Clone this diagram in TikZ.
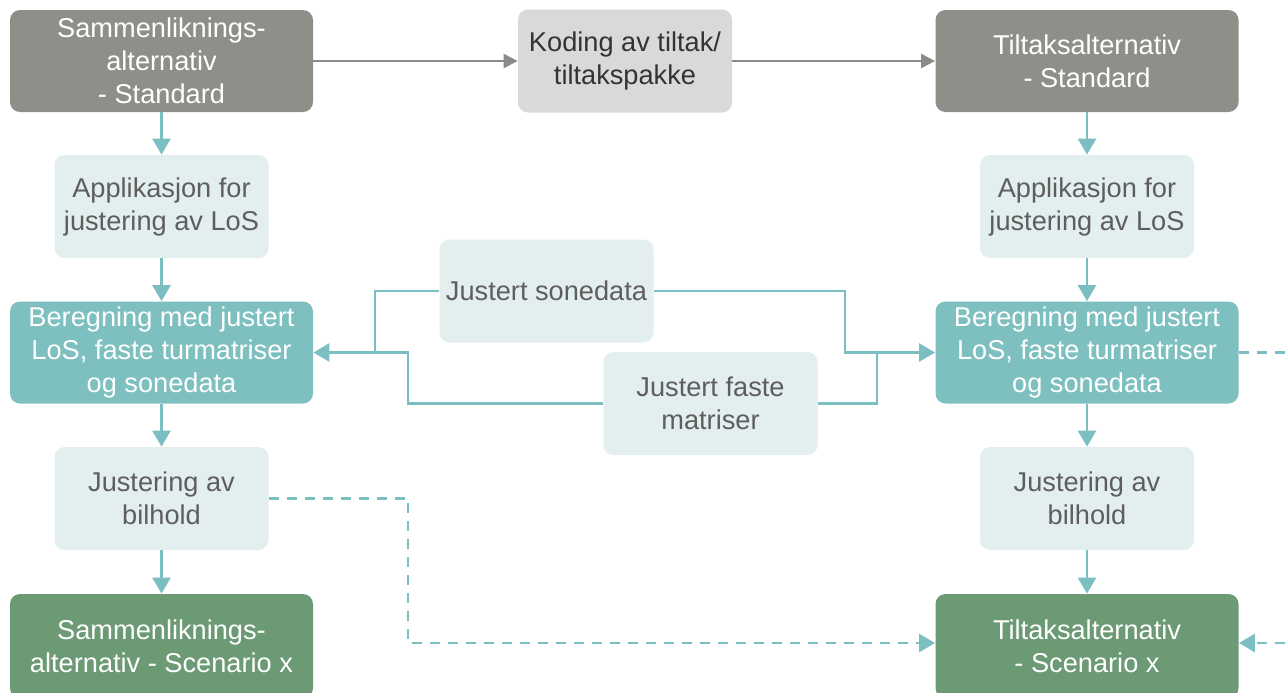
\documentclass[tikz,border=0pt]{standalone}
\usepackage{fontspec}
\setmainfont{Liberation Sans}
\usetikzlibrary{arrows.meta}
\definecolor{stdgrey}{HTML}{8F8F8A}
\definecolor{codegrey}{HTML}{D9D9D9}
\definecolor{paletxt}{HTML}{5E5E5E}
\definecolor{palebox}{HTML}{E2EFEE}
\definecolor{tealbox}{HTML}{7EBFBF}
\definecolor{teal}{HTML}{7CBFC2}
\definecolor{scengreen}{HTML}{6B9A74}
\definecolor{arrgrey}{HTML}{8A8A88}
\tikzset{
	box/.style={rounded corners=5pt,align=center,inner sep=2pt,font=\fontsize{13.6}{16.5}\selectfont},
	wide/.style={box,minimum width=151.5pt,minimum height=51pt},
	narrow/.style={box,minimum width=107pt,minimum height=51.5pt},
	link/.style={draw=teal,line width=1.4pt,-{Triangle[length=8pt,width=9pt]}},
	dashlink/.style={link,dash pattern=on 5pt off 4pt}
}
\begin{document}
\begin{tikzpicture}[x=.5pt,y=-.5pt]
	\useasboundingbox(0,0)rectangle(1285,692);
	\node[wide,fill=stdgrey,text=white](A1)at(161.5,61){Sammenliknings-\\alternativ\\- Standard};
	\node[narrow,fill=codegrey,text=black!80](K)at(625,61){Koding av tiltak/\\tiltakspakke};
	\node[wide,fill=stdgrey,text=white](T1)at(1087,61){Tiltaksalternativ\\- Standard};
	\node[narrow,fill=palebox,text=paletxt](appL)at(161.5,206.5){Applikasjon for\\justering av LoS};
	\node[narrow,fill=palebox,text=paletxt](appR)at(1087,206.5){Applikasjon for\\justering av LoS};
	\node[wide,fill=tealbox,text=white](berL)at(161.5,352.5){Beregning med justert\\LoS, faste turmatriser\\og sonedata};
	\node[wide,fill=tealbox,text=white](berR)at(1087,352.5){Beregning med justert\\LoS, faste turmatriser\\og sonedata};
	\node[narrow,fill=palebox,text=paletxt](sone)at(546.5,291){Justert sonedata};
	\node[narrow,fill=palebox,text=paletxt](faste)at(710.5,403.5){Justert faste\\matriser};
	\node[narrow,fill=palebox,text=paletxt](jusL)at(161.5,498.5){Justering av\\bilhold};
	\node[narrow,fill=palebox,text=paletxt](jusR)at(1087,498.5){Justering av\\bilhold};
	\node[wide,fill=scengreen,text=white,minimum height=52pt](scnL)at(161.5,646){Sammenliknings-\\alternativ - Scenario x};
	\node[wide,fill=scengreen,text=white,minimum height=52pt](scnR)at(1087,646){Tiltaksalternativ\\- Scenario x};
	% knekkpunkt
	\coordinate(jL)at(375,352.5);
	\coordinate(fL)at(408,352.5);
	\coordinate(jR)at(845,352.5);
	\coordinate(fR)at(877,352.5);
	\coordinate(dk)at(408,643);
	\coordinate(edgeA)at(1285,352.5);
	\coordinate(edgeB)at(1285,643);
	\draw[link,draw=arrgrey,line width=1.2pt,-{Triangle[length=7pt,width=7pt]}](A1)--(K);
	\draw[link,draw=arrgrey,line width=1.2pt,-{Triangle[length=7pt,width=7pt]}](K)--(T1);
	\foreach\a/\b in{A1/appL,appL/berL,berL/jusL,jusL/scnL,T1/appR,appR/berR,berR/jusR,jusR/scnR}{\draw[link](\a)--(\b);}
	\draw[link](sone.west)-|(jL)--(berL.east);
	\draw[link,-](faste.west)-|(fL)--(jL);
	\draw[link](sone.east)-|(jR)--(berR.west);
	\draw[link,-](faste.east)-|(fR);
	\draw[dashlink](jusL.east)-|(dk)--(scnR.west|-dk);
	\draw[dashlink,-](berR.east)--(edgeA);
	\draw[dashlink](edgeB)--(scnR.east|-edgeB);
\end{tikzpicture}
\end{document}
